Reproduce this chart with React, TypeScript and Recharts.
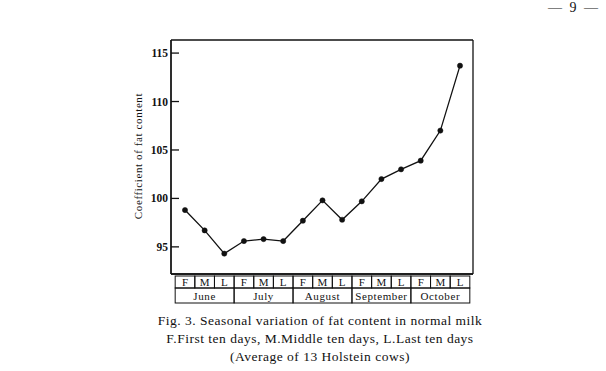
import React from "react";
import { LineChart, Line, XAxis, YAxis, CartesianGrid } from "recharts";

const tenths = ["F", "M", "L", "F", "M", "L", "F", "M", "L", "F", "M", "L", "F", "M", "L"];
const months = ["June", "July", "August", "September", "October"];
const fatCoef = [98.8, 96.7, 94.3, 95.6, 95.8, 95.6, 97.7, 99.8, 97.8, 99.7, 102.0, 103.0, 103.9, 107.0, 113.7];
const yTicks = [95, 100, 105, 110, 115];

const data = tenths.map((t, i) => ({
  key: i,
  tenth: t,
  month: months[Math.floor(i / 3)],
  value: fatCoef[i],
}));

const FONT = "'Liberation Serif', 'DejaVu Serif', serif";
const W = 606;
const H = 371;
const M = { top: 40, right: 133, bottom: 67, left: 131 };
const PAD = { left: 14, right: 13 };
const Y_DOMAIN = [92.2, 116.35];
// distance between two neighbouring points
const STEP = (W - M.left - 40 - M.right - PAD.left - PAD.right) / (tenths.length - 1);
const AXIS = { stroke: "#111", strokeWidth: 1.3 };

const TableTick = (props: any) => {
  const { x, y, index } = props;
  const top = y + 2;
  const item = data[index];
  return (
    <g>
      <rect x={x - STEP / 2} y={top} width={STEP} height={12} fill="none" stroke="#111" strokeWidth={1} />
      <text x={x} y={top + 10} textAnchor="middle" fontSize={11} fontFamily={FONT} fill="#111">
        {item.tenth}
      </text>
      {index % 3 === 1 && (
        <g>
          <rect x={x - STEP * 1.5} y={top + 12} width={STEP * 3} height={15} fill="none" stroke="#111" strokeWidth={1} />
          <text x={x} y={top + 24} textAnchor="middle" fontSize={11} fontFamily={FONT} fill="#111" letterSpacing={0.6}>
            {item.month}
          </text>
        </g>
      )}
    </g>
  );
};

const YTick = (props: any) => {
  const { x, y, payload } = props;
  return (
    <g>
      <line x1={x} x2={x + 8} y1={y} y2={y} stroke="#111" strokeWidth={1.3} />
      <text x={x - 3} y={y} dy="0.35em" textAnchor="end" fontSize={11.5} fontWeight="bold" fontFamily={FONT} fill="#111">
        {payload.value}
      </text>
    </g>
  );
};

const YLabel = (props: any) => {
  const { viewBox } = props;
  const cx = viewBox.x + 11;
  const cy = viewBox.y + viewBox.height / 2 - 1;
  return (
    <text
      x={cx}
      y={cy}
      transform={`rotate(-90, ${cx}, ${cy})`}
      textAnchor="middle"
      fontSize={11}
      fontFamily={FONT}
      fill="#111"
      letterSpacing={0.6}
    >
      Coefficient of fat content
    </text>
  );
};

// frame lines along the edges of the plot area
const frameH = ({ offset }: any) => [offset.top, offset.top + offset.height];
const frameV = ({ offset }: any) => [offset.left, offset.left + offset.width];

export default function App() {
  return (
    <div style={{ position: "absolute", left: 0, top: 0, width: W, height: H, background: "#fff", fontFamily: FONT, color: "#111" }}>
      <LineChart width={W} height={H} data={data} margin={M}>
        <CartesianGrid
          stroke="#111"
          strokeWidth={1.3}
          horizontalCoordinatesGenerator={frameH}
          verticalCoordinatesGenerator={frameV}
        />
        <XAxis
          dataKey="key"
          type="category"
          padding={PAD}
          axisLine={AXIS}
          tickLine={false}
          tickSize={0}
          tickMargin={0}
          height={30}
          interval={0}
          tick={<TableTick />}
        />
        <YAxis
          domain={Y_DOMAIN}
          ticks={yTicks}
          width={40}
          axisLine={AXIS}
          tickLine={false}
          tickSize={0}
          tickMargin={0}
          tick={<YTick />}
          label={<YLabel />}
        />
        <Line
          type="linear"
          dataKey="value"
          stroke="#111"
          strokeWidth={1.3}
          dot={{ r: 2.6, fill: "#111", stroke: "#111", strokeWidth: 0.5 }}
          isAnimationActive={false}
        />
      </LineChart>
      <div style={{ position: "absolute", right: 6, top: 0, fontSize: 14, letterSpacing: 2 }}>— 9 —</div>
      <div style={{ position: "absolute", left: 0, width: 640, top: 312, textAlign: "center", fontSize: 13.5, lineHeight: "18px", letterSpacing: 0.5 }}>
        <div>Fig. 3. Seasonal variation of fat content in normal milk</div>
        <div>F.First ten days, M.Middle ten days, L.Last ten days</div>
        <div>(Average of 13 Holstein cows)</div>
      </div>
    </div>
  );
}
